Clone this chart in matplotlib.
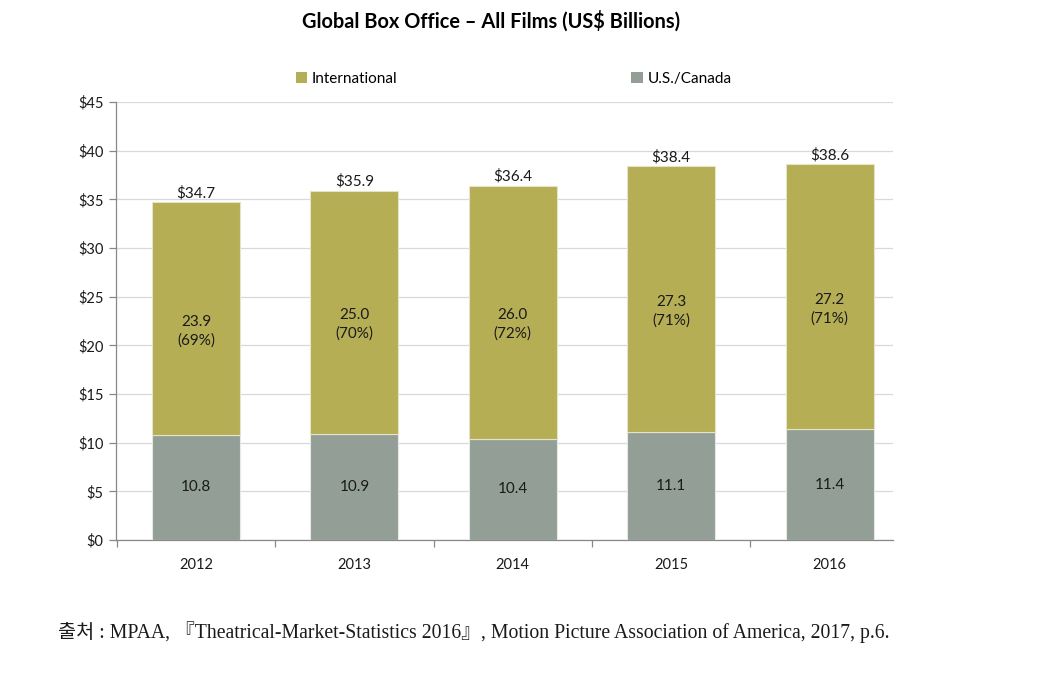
import matplotlib
matplotlib.use("Agg")
import matplotlib.pyplot as plt
from matplotlib.patches import Patch

years = ["2012", "2013", "2014", "2015", "2016"]
us_canada = [10.8, 10.9, 10.4, 11.1, 11.4]
international = [23.9, 25.0, 26.0, 27.3, 27.2]
intl_share = ["69%", "70%", "72%", "71%", "71%"]
totals = [34.7, 35.9, 36.4, 38.4, 38.6]
yticks = [0, 5, 10, 15, 20, 25, 30, 35, 40, 45]

C_INTL = "#B5AE55"
C_US = "#939F96"
TXT = "#1a1a1a"

plt.rcParams["font.family"] = ["Lato", "DejaVu Sans"]

fig = plt.figure(figsize=(10.49, 6.83), dpi=100)
ax = fig.add_axes([116/1049, 1 - 540/683, (893-116)/1049, (540-102)/683])

x = list(range(len(years)))
w = 0.555
ax.bar(x, us_canada, width=w, color=C_US, edgecolor="#e6e8e3", linewidth=0.8, zorder=3)
ax.bar(x, international, width=w, bottom=us_canada, color=C_INTL, edgecolor="#e6e3c8", linewidth=0.8, zorder=3)

for i in x:
    ax.text(i, us_canada[i] / 2, f"{us_canada[i]:.1f}", ha="center", va="center",
            fontsize=11, color=TXT, zorder=4)
    mid = us_canada[i] + international[i] / 2
    ax.annotate(f"{international[i]:.1f}\n({intl_share[i]})", (i, mid), xytext=(0, -9),
                textcoords="offset points", ha="center", va="center", fontsize=11,
                color=TXT, linespacing=1.4, zorder=4)
    ax.annotate(f"${totals[i]:.1f}", (i, totals[i]), xytext=(0, 1.5), textcoords="offset points",
                ha="center", va="bottom", fontsize=11, color=TXT, zorder=4)

ax.set_ylim(0, 45)
ax.set_xlim(-0.505, 4.4)
ax.set_yticks(yticks)
ax.set_yticklabels([f"${v}" for v in yticks], fontsize=10.5, color=TXT)
ax.yaxis.grid(True, color="#d9d9d9", linewidth=0.9, zorder=0)
ax.set_axisbelow(True)

ax.set_xticks(x)
ax.set_xticklabels(years, fontsize=10.5, color=TXT)
ax.tick_params(axis="x", length=0, pad=13)
ax.set_xticks([i + 0.5 for i in range(-1, 4)], minor=True)
ax.tick_params(axis="x", which="minor", length=5, color="#888888", width=0.9)
ax.tick_params(axis="y", length=5, color="#888888", width=0.9, pad=4)

for s in ["top", "right"]:
    ax.spines[s].set_visible(False)
for s in ["left", "bottom"]:
    ax.spines[s].set_color("#888888")
    ax.spines[s].set_linewidth(0.9)

fig.text(491/1049, 1 - 21/683, "Global Box Office \u2013 All Films (US$ Billions)",
         ha="center", va="center", fontsize=14.4, fontweight="bold", color="#000000")

handles = [Patch(facecolor=C_INTL, edgecolor="none", label="International"),
           Patch(facecolor=C_US, edgecolor="none", label="U.S./Canada")]
fig.legend(handles=handles, loc="center left", bbox_to_anchor=(296/1049, 1 - 79/683), ncol=2,
           frameon=False, fontsize=11, handlelength=0.75, handleheight=0.75,
           handletextpad=0.3, columnspacing=15.3, borderaxespad=0, borderpad=0)

fig.text(58/1049, 1 - 632/683,
         "출처 : MPAA, 『Theatrical-Market-Statistics 2016』, Motion Picture Association of America, 2017, p.6.",
         ha="left", va="center", fontsize=14.2, color=TXT,
         family=["Liberation Serif", "Noto Sans CJK KR", "DejaVu Sans"])

fig.savefig("out.png", dpi=100)
